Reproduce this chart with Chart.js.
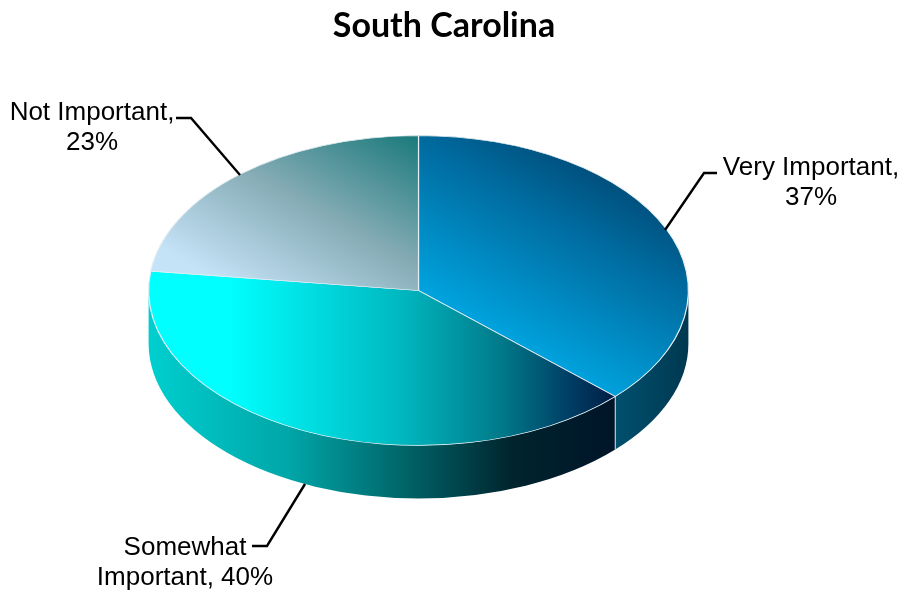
<!DOCTYPE html>
<html>
<head>
<meta charset="utf-8">
<title>South Carolina</title>
<script src="https://cdn.jsdelivr.net/npm/chart.js@4"></script>
<style>
    html, body { margin: 0; padding: 0; background: #ffffff; }
    canvas { display: block; }
</style>
</head>
<body>
<canvas id="pieChart" width="919" height="593"></canvas>
<script>
/* ==========================================
        DATA
========================================== */

const chartTitle = "South Carolina";
const categories = ["Very Important", "Somewhat Important", "Not Important"];
const shares = [37, 40, 23];
const labelRows = [
    ["Very Important,", "37%"],
    ["Somewhat", "Important, 40%"],
    ["Not Important,", "23%"]
];

/* ==========================================
        LAYOUT
========================================== */

const squash = 155 / 270;
const depth = 53;
const labelFont = "26px 'Liberation Sans', Arial, sans-serif";

const labelCentres = [[811, 168], [185, 548], [92, 113]];
const leaders = [
    [[665, 230], [704, 173], [717, 173]],
    [[305, 484], [267, 546], [252, 546]],
    [[240, 175], [191, 118], [176, 118]]
];

/* the pie is drawn as a circle and flattened, so gradients need circle coords */
function gradient(ctx, chart, x0, y0, x1, y1, stops) {
    const cy = (chart.chartArea.top + chart.chartArea.bottom) / 2;
    const g = ctx.createLinearGradient(
        x0, cy + (y0 - cy) / squash,
        x1, cy + (y1 - cy) / squash
    );
    stops.forEach(s => g.addColorStop(s[0], s[1]));
    return g;
}

function sliceFill(context) {
    const chart = context.chart;
    if (!chart.chartArea) return "#00a0e0";
    const ctx = chart.ctx;
    if (context.dataIndex === 0) {
        return gradient(ctx, chart, 470, 327, 670, 212, [
            [0, "#00a6e2"], [0.7, "#006a9e"], [1, "#004f7c"]
        ]);
    }
    if (context.dataIndex === 1) {
        return gradient(ctx, chart, 230, 330, 617, 330, [
            [0, "#00ffff"], [0.44, "#00b8c0"], [0.7, "#007a8a"],
            [0.88, "#003d64"], [1, "#001c44"]
        ]);
    }
    return gradient(ctx, chart, 190, 265, 411, 138, [
        [0, "#c5e3f7"], [0.5, "#86acb6"], [1, "#1f7c7e"]
    ]);
}

/* ==========================================
        3D PLUGIN
========================================== */

function drawWall(ctx, cx, cy, rx, ry, from, to, fill) {
    ctx.beginPath();
    ctx.ellipse(cx, cy, rx, ry, 0, from, to);
    ctx.ellipse(cx, cy + depth, rx, ry, 0, to, from, true);
    ctx.closePath();
    ctx.fillStyle = fill;
    ctx.fill();
}

const flatPie = {
    id: "flatPie",

    beforeDatasetsDraw(chart) {
        const ctx = chart.ctx;
        const arcs = chart.getDatasetMeta(0).data;
        const cx = arcs[0].x;
        const cy = arcs[0].y;
        const rx = arcs[0].outerRadius;
        const ry = rx * squash;

        // side walls, only the front half of the ellipse shows
        const seam = arcs[0].endAngle;
        const seamX = cx + rx * Math.cos(seam);
        const seamY = cy + ry * Math.sin(seam);

        const wallA = ctx.createLinearGradient(seamX, 0, cx + rx, 0);
        wallA.addColorStop(0, "#00506e");
        wallA.addColorStop(1, "#003850");
        drawWall(ctx, cx, cy, rx, ry, 0, seam, wallA);

        const wallB = ctx.createLinearGradient(cx - rx, 0, seamX, 0);
        wallB.addColorStop(0, "#00cfcf");
        wallB.addColorStop(0.3, "#00a6a8");
        wallB.addColorStop(0.55, "#006468");
        wallB.addColorStop(0.78, "#00242e");
        wallB.addColorStop(1, "#001428");
        drawWall(ctx, cx, cy, rx, ry, seam, Math.PI, wallB);

        ctx.strokeStyle = "#d5e3ea";
        ctx.lineWidth = 1;
        ctx.beginPath();
        ctx.moveTo(seamX, seamY);
        ctx.lineTo(seamX, seamY + depth);
        ctx.stroke();

        // flatten the slices the library draws next
        ctx.save();
        ctx.translate(0, cy);
        ctx.scale(1, squash);
        ctx.translate(0, -cy);
    },

    afterDatasetsDraw(chart) {
        chart.ctx.restore();
    },

    afterDraw(chart) {
        const ctx = chart.ctx;

        ctx.save();
        ctx.fillStyle = "#000000";
        ctx.textAlign = "center";
        ctx.textBaseline = "middle";

        ctx.font = "700 34px Lato, sans-serif";
        ctx.fillText(chartTitle, 444, 26);

        ctx.font = labelFont;
        labelRows.forEach((rows, i) => {
            rows.forEach((row, r) => {
                ctx.fillText(row, labelCentres[i][0], labelCentres[i][1] + r * 30);
            });
        });

        ctx.strokeStyle = "#000000";
        ctx.lineWidth = 2.4;
        leaders.forEach(points => {
            ctx.beginPath();
            ctx.moveTo(points[0][0], points[0][1]);
            ctx.lineTo(points[1][0], points[1][1]);
            ctx.lineTo(points[2][0], points[2][1]);
            ctx.stroke();
        });
        ctx.restore();
    }
};

/* ==========================================
        CREATE CHART
========================================== */

new Chart(document.getElementById("pieChart").getContext("2d"), {
    type: "pie",
    data: {
        labels: categories,
        datasets: [{
            data: shares,
            backgroundColor: sliceFill,
            borderColor: "#e4eef2",
            borderWidth: 1.2
        }]
    },
    options: {
        responsive: false,
        animation: false,
        events: [],
        layout: {
            padding: { left: 148, right: 230, top: 20, bottom: 32 }
        },
        plugins: {
            legend: { display: false },
            tooltip: { enabled: false }
        }
    },
    plugins: [flatPie]
});
</script>
</body>
</html>
